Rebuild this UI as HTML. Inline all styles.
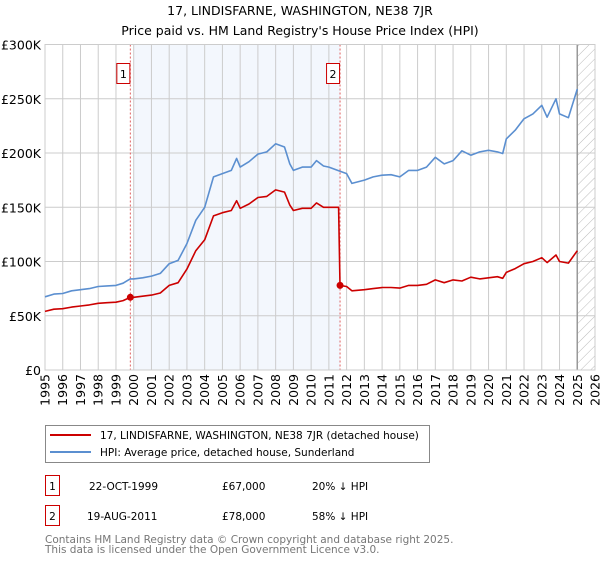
<!DOCTYPE html>
<html><head><meta charset="utf-8"><style>
body{margin:0;background:#fff;font-family:"DejaVu Sans","Liberation Sans",sans-serif}
svg text{font-family:"DejaVu Sans","Liberation Sans",sans-serif}
</style></head><body>
<svg id="c" width="600" height="560" xmlns="http://www.w3.org/2000/svg">
<defs><pattern id="hatch" width="7" height="7" patternUnits="userSpaceOnUse" patternTransform="rotate(45)"><line x1="0" y1="0" x2="0" y2="7" stroke="#bbb" stroke-width="1"/></pattern></defs>
<text x="300" y="15" text-anchor="middle" font-size="12.5" fill="#000">17, LINDISFARNE, WASHINGTON, NE38 7JR</text>
<text x="300" y="35" text-anchor="middle" font-size="12.5" fill="#000">Price paid vs. HM Land Registry's House Price Index (HPI)</text>
<g id="plot"></g>
<rect x="45.5" y="425.5" width="384" height="37" fill="#fff" stroke="#888"/>
<line x1="50" y1="435" x2="91" y2="435" stroke="#cc0000" stroke-width="2"/>
<text x="100" y="439" font-size="10.5">17, LINDISFARNE, WASHINGTON, NE38 7JR (detached house)</text>
<line x1="50" y1="452" x2="91" y2="452" stroke="#5b8fd0" stroke-width="2"/>
<text x="100" y="456" font-size="10.5">HPI: Average price, detached house, Sunderland</text>
<g>
<rect x="45.5" y="475.5" width="14" height="20" fill="#fff" stroke="#c00"/>
<text x="52.5" y="490" text-anchor="middle" font-size="10.5">1</text>
<text x="89" y="490" font-size="10.5">22-OCT-1999</text>
<text x="222" y="490" font-size="10.5">£67,000</text>
<text x="312" y="490" font-size="10.5">20% ↓ HPI</text></g>
<g>
<rect x="45.5" y="505.5" width="14" height="20" fill="#fff" stroke="#c00"/>
<text x="52.5" y="520" text-anchor="middle" font-size="10.5">2</text>
<text x="87" y="520" font-size="10.5">19-AUG-2011</text>
<text x="222" y="520" font-size="10.5">£78,000</text>
<text x="312" y="520" font-size="10.5">58% ↓ HPI</text></g>
<text x="45" y="543" font-size="10.5" fill="#777">Contains HM Land Registry data © Crown copyright and database right 2025.</text>
<text x="45" y="553" font-size="10.5" fill="#777">This data is licensed under the Open Government Licence v3.0.</text>
</svg>
<script>
const hpiYears=[1995,1995.5,1996,1996.5,1997,1997.5,1998,1998.5,1999,1999.4,1999.8,2000,2000.5,2001,2001.5,2002,2002.5,2003,2003.5,2004,2004.5,2005,2005.5,2005.8,2006,2006.5,2007,2007.5,2008,2008.5,2008.8,2009,2009.5,2010,2010.3,2010.7,2011,2011.5,2012,2012.3,2013,2013.5,2014,2014.5,2015,2015.5,2016,2016.5,2017,2017.5,2018,2018.5,2019,2019.5,2020,2020.5,2020.8,2021,2021.5,2022,2022.5,2023,2023.3,2023.8,2024,2024.5,2025];
const hpiValues=[67.5,70,70.5,73,74,75,77,77.5,78,80,84,84,85,86.5,89,98,101,116.5,138,150,178,181,184,195,187,192,199,201,208.5,205.5,190,184,187,187,193,188,187,184,181,172,175,178,179.5,180,178,184,184,187,196,190,193,202,198,201,202.5,201,199.5,213,221,231.5,236,244,233,250,236,232.5,259];
const priceYears=[1995,1995.5,1996,1996.5,1997,1997.5,1998,1998.5,1999,1999.4,1999.8,2000,2000.5,2001,2001.5,2002,2002.5,2003,2003.5,2004,2004.5,2005,2005.5,2005.8,2006,2006.5,2007,2007.5,2008,2008.5,2008.8,2009,2009.5,2010,2010.3,2010.7,2011,2011.55,2011.63,2012,2012.3,2013,2013.5,2014,2014.5,2015,2015.5,2016,2016.5,2017,2017.5,2018,2018.5,2019,2019.5,2020,2020.5,2020.8,2021,2021.5,2022,2022.5,2023,2023.3,2023.8,2024,2024.5,2025];
const priceValues=[54,56,56.5,58,59,60,61.5,62,62.5,64,67,67,68,69,71,78,80.5,93,110,120,142,145,147,156,149,153,159,160,166,164,152,147,149,149,154,150,150,150,78,77,73,74,75,76,76,75.5,78,78,79,83,80.5,83,82,85.5,84,85,86,84.5,90,93.5,98,100,103.5,99,106,100,98.5,110];
const sales=[{n:"1",year:1999.81,value:67},{n:"2",year:2011.63,value:78}];
const yTicks=[0,50,100,150,200,250,300];
const yTickLabels=["£0","£50K","£100K","£150K","£200K","£250K","£300K"];
const xTicks=[1995,1996,1997,1998,1999,2000,2001,2002,2003,2004,2005,2006,2007,2008,2009,2010,2011,2012,2013,2014,2015,2016,2017,2018,2019,2020,2021,2022,2023,2024,2025,2026];

const X0=45,X1=595,Y0=370,Y1=44.5;
const xs=y=>X0+(y-1995)/(2026-1995)*(X1-X0);
const ys=v=>Y0-v/300*(Y0-Y1);
const NS="http://www.w3.org/2000/svg";
const g=document.getElementById('plot');
function mk(t,a){const e=document.createElementNS(NS,t);for(const k in a)e.setAttribute(k,a[k]);g.appendChild(e);return e;}

const sh=mk('rect',{x:xs(2000),y:Y1,width:xs(2011.63)-xs(2000),height:Y0-Y1,fill:'#eef3fc',opacity:0.7});


const ht=mk('rect',{x:xs(2025),y:Y1,width:X1-xs(2025),height:Y0-Y1,fill:'url(#hatch)'});



yTicks.forEach((v,i)=>{
 const l=mk('line',{x1:X0,x2:X1,y1:ys(v),y2:ys(v),stroke:'#ccc','stroke-width':1});
 
 
 const t=mk('text',{x:X0-4,y:ys(v)+5,'text-anchor':'end','font-size':'12.5',fill:'#000'});
 t.textContent=yTickLabels[i];
 
 
});
xTicks.forEach(yr=>{
 const l=mk('line',{x1:xs(yr),x2:xs(yr),y1:Y1,y2:Y0,stroke:'#ccc','stroke-width':1});
 
 
 const t=mk('text',{x:0,y:0,'text-anchor':'end','font-size':'12.5',fill:'#000',transform:`translate(${xs(yr)+4.5},374) rotate(-90)`});
 t.textContent=String(yr);
 
 
});
const vl=mk('line',{x1:xs(2025),x2:xs(2025),y1:Y1,y2:Y0,stroke:'#999','stroke-width':1.5});



sales.forEach(s=>{
 const l=mk('line',{x1:xs(s.year),x2:xs(s.year),y1:Y1,y2:Y0,stroke:'#e06060','stroke-width':1,'stroke-dasharray':'2,2'});
 
 
 const b=mk('rect',{x:xs(s.year)-13.5,y:63.5,width:13,height:20,fill:'#fff',stroke:'#c00'});
 
 
 const t=mk('text',{x:xs(s.year)-7,y:78,'text-anchor':'middle','font-size':'11'});
 t.textContent=s.n;
 
 
});
const frame=mk('rect',{x:X0,y:Y1,width:X1-X0,height:Y0-Y1,fill:'none',stroke:'#ccc'});



function path(xa,va,col,name){
 const p=mk('path',{d:xa.map((x,i)=>(i?'L':'M')+xs(x).toFixed(1)+','+ys(va[i]).toFixed(1)).join(''),fill:'none',stroke:col,'stroke-width':1.6,'stroke-linejoin':'round'});
 
 
}
path(hpiYears,hpiValues,'#5b8fd0','hpi-line');
path(priceYears,priceValues,'#cc0000','price-paid-line');
sales.forEach(s=>{
 const c=mk('circle',{cx:xs(s.year),cy:ys(s.value),r:3.5,fill:'#cc0000'});
 
 
});
</script>
</body></html>
